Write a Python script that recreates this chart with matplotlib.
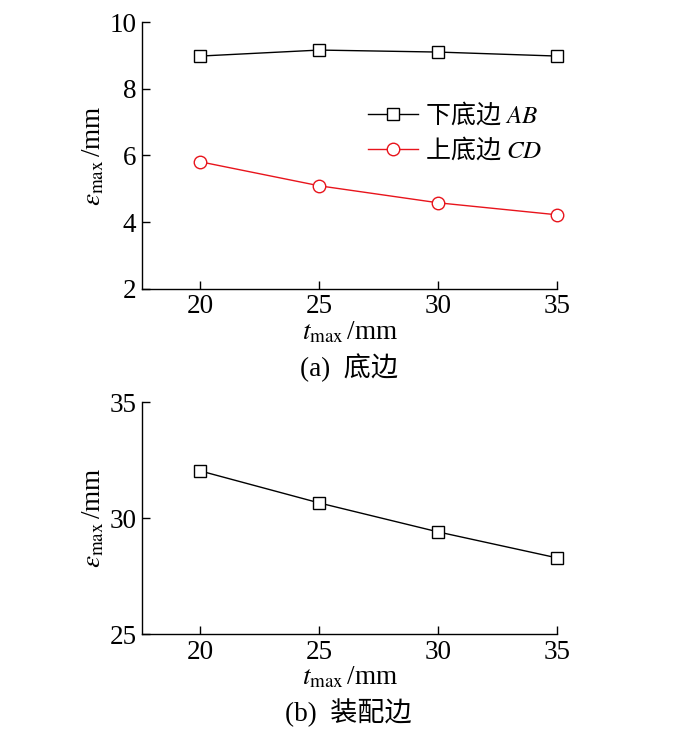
import matplotlib
matplotlib.use("Agg")
import matplotlib.pyplot as plt

plt.rcParams['font.family'] = ['Liberation Serif', 'Noto Sans CJK SC']
plt.rcParams['mathtext.fontset'] = 'stix'

# data
t_max = [20, 25, 30, 35]
eps_ab = [8.98, 9.16, 9.10, 8.98]
eps_cd = [5.81, 5.09, 4.58, 4.22]
eps_fit = [32.03, 30.65, 29.40, 28.28]

label_ab = r'下底边$\ AB$'
label_cd = r'上底边$\ CD$'
cap_a = '(a)  底边'
cap_b = '(b)  装配边'

fs = 19.5
fig = plt.figure(figsize=(6.73, 7.35), dpi=100)
ax1 = fig.add_axes([0.211, 0.607, 0.617, 0.363])
ax2 = fig.add_axes([0.211, 0.1374, 0.617, 0.3156])


def style(ax):
    for s in ['top', 'right']:
        ax.spines[s].set_visible(False)
    for s in ['left', 'bottom']:
        ax.spines[s].set_linewidth(1.0)
    ax.tick_params(direction='in', length=6, width=1, labelsize=fs, pad=4)
    ax.set_xlim(17.55, 35)
    ax.set_xticks(t_max)
    ax.set_xlabel(r'$t_{\rm max}\,$/mm', fontsize=fs, labelpad=0)
    ax.set_ylabel(r'$\varepsilon_{\rm max}\,$/mm', fontsize=fs)
    ax.yaxis.set_label_coords(-0.085, 0.5)


# (a) bottom edges
ax1.plot(t_max, eps_ab, color='black', lw=1, marker='s', ms=8,
         mfc='white', mec='black', mew=1, label=label_ab, clip_on=False)
ax1.plot(t_max, eps_cd, color='#e8141c', lw=1, marker='o', ms=9,
         mfc='white', mec='#e8141c', mew=1, label=label_cd, clip_on=False)
style(ax1)
ax1.set_ylim(2, 10)
ax1.set_yticks([2, 4, 6, 8, 10])
ax1.legend(loc='upper left', bbox_to_anchor=(0.49, 0.79), frameon=False,
           prop={'family': 'Noto Sans CJK SC', 'size': 18},
           handlelength=2.0, handletextpad=0.3, labelspacing=0.3)
fig.text(0.518, 0.499, cap_a, ha='center', va='center', fontsize=fs)

# (b) assembly edge
ax2.plot(t_max, eps_fit, color='black', lw=1, marker='s', ms=8,
         mfc='white', mec='black', mew=1, clip_on=False)
style(ax2)
ax2.set_ylim(25, 35)
ax2.set_yticks([25, 30, 35])
fig.text(0.518, 0.030, cap_b, ha='center', va='center', fontsize=fs)

fig.savefig('out.png', dpi=100)
